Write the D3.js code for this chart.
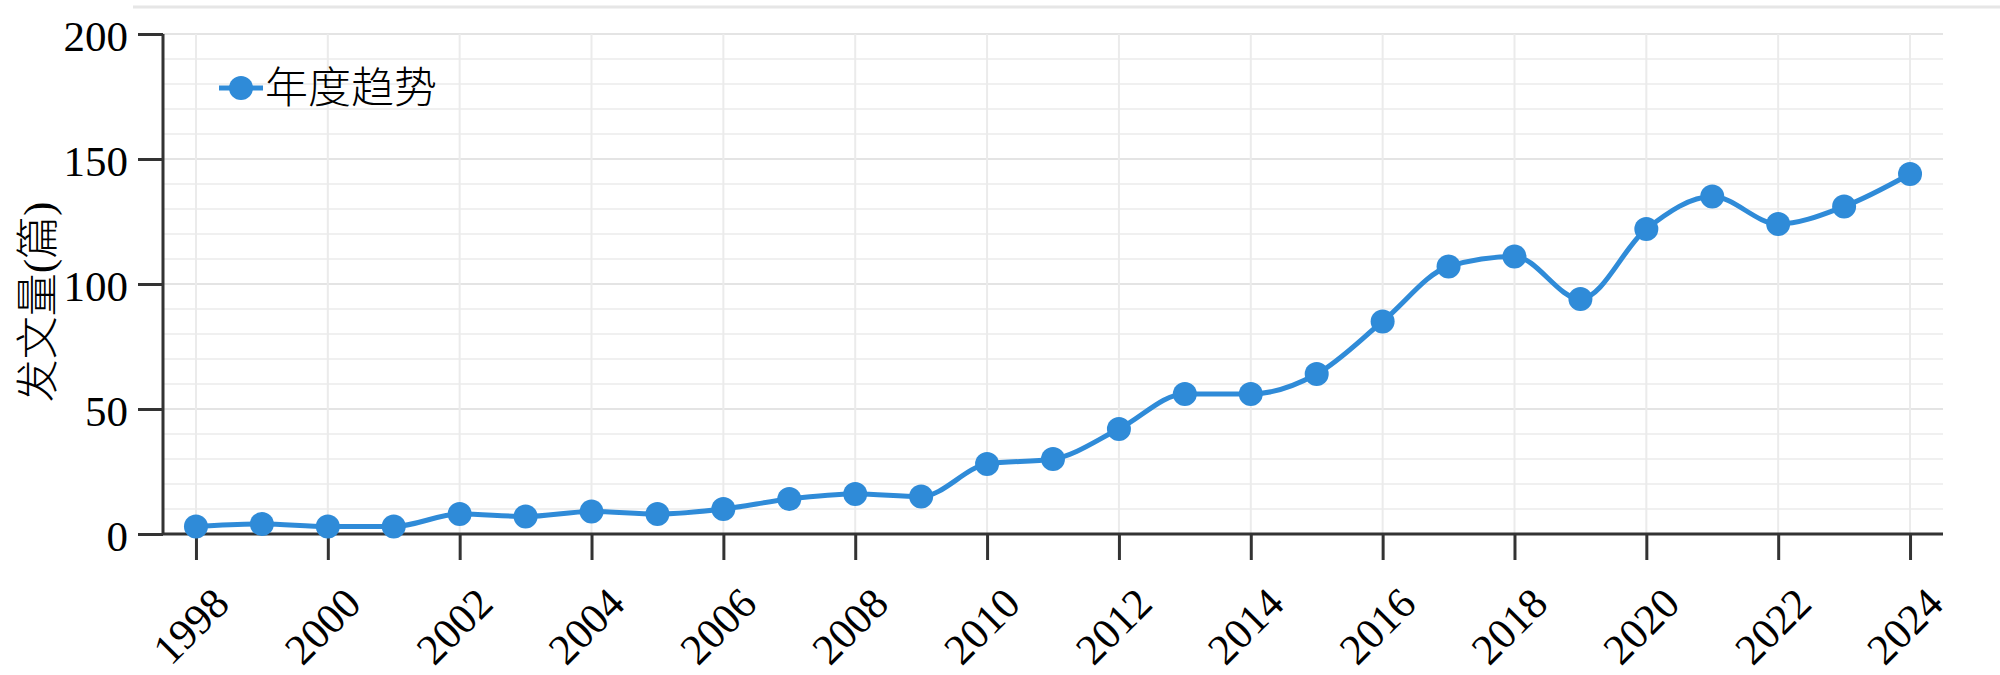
<!DOCTYPE html>
<html>
<head>
<meta charset="utf-8">
<script src="https://cdn.jsdelivr.net/npm/d3@7"></script>
<style>
  html, body { margin: 0; padding: 0; background: #fff; }
  svg { display: block; }
</style>
</head>
<body>
<div id="chart"></div>
<script>
// data
const years = [1998, 1999, 2000, 2001, 2002, 2003, 2004, 2005, 2006, 2007, 2008, 2009, 2010,
               2011, 2012, 2013, 2014, 2015, 2016, 2017, 2018, 2019, 2020, 2021, 2022, 2023, 2024];
const counts = [3, 4, 3, 3, 8, 7, 9, 8, 10, 14, 16, 15, 28,
                30, 42, 56, 56, 64, 85, 107, 111, 94, 122, 135, 124, 131, 144];
const xTickYears = [1998, 2000, 2002, 2004, 2006, 2008, 2010, 2012, 2014, 2016, 2018, 2020, 2022, 2024];
const yTicks = [0, 50, 100, 150, 200];
const yGrid = d3.range(0, 201, 10);
const seriesName = "年度趋势";
const yTitle = "发文量(篇)";

const width = 2000, height = 675;
const plotLeft = 163, plotRight = 1943, plotTop = 34, plotBottom = 534;
const blue = "#2f8bd8";
const axisColor = "#333";
const serif = "'Liberation Serif', 'Times New Roman', serif";
const cjk = "'Liberation Serif', 'Noto Sans CJK SC', serif";

const svg = d3.select("#chart").append("svg")
    .attr("width", width)
    .attr("height", height);

const x = d3.scaleLinear().domain([1997.5, 2024.5]).range([plotLeft, plotRight]);
const y = d3.scaleLinear().domain([0, 200]).range([plotBottom, plotTop]);

// faint rule along the top
svg.append("line")
    .attr("x1", 133).attr("x2", width)
    .attr("y1", 7).attr("y2", 7)
    .attr("stroke", "#e6e6e6")
    .attr("stroke-width", 3);

// grid
const grid = svg.append("g");
grid.selectAll(".hgrid")
    .data(yGrid)
    .enter().append("line")
    .attr("class", "hgrid")
    .attr("x1", plotLeft).attr("x2", plotRight)
    .attr("y1", d => y(d)).attr("y2", d => y(d))
    .attr("stroke", d => d % 50 === 0 ? "#e4e4e4" : "#f0f0f0")
    .attr("stroke-width", 2);
grid.selectAll(".vgrid")
    .data(xTickYears)
    .enter().append("line")
    .attr("class", "vgrid")
    .attr("x1", d => x(d)).attr("x2", d => x(d))
    .attr("y1", plotTop).attr("y2", plotBottom)
    .attr("stroke", "#ebebeb")
    .attr("stroke-width", 2);

// axes
const yAxis = svg.append("g")
    .attr("transform", `translate(${plotLeft},0)`)
    .call(d3.axisLeft(y).tickValues(yTicks).tickSize(25).tickPadding(10));
const xAxis = svg.append("g")
    .attr("transform", `translate(0,${plotBottom})`)
    .call(d3.axisBottom(x).tickValues(xTickYears).tickSize(26).tickFormat(d3.format("d")));

[yAxis, xAxis].forEach(g => {
    g.select(".domain").attr("stroke", axisColor).attr("stroke-width", 3);
    g.selectAll(".tick line").attr("stroke", axisColor).attr("stroke-width", 3);
    g.selectAll("text")
        .attr("fill", "#000")
        .style("font-family", serif)
        .style("font-size", "43px");
});
yAxis.select(".domain").attr("d", `M0,${plotTop}V${plotBottom}`);
xAxis.select(".domain").attr("d", `M${plotLeft},0H${plotRight}`);
yAxis.selectAll("text").attr("dy", "0.38em");

xAxis.selectAll(".tick text")
    .attr("text-anchor", "end")
    .attr("x", 0).attr("y", 0).attr("dy", 0)
    .attr("transform", "translate(35,72) rotate(-45)");

// y title
svg.append("text")
    .attr("transform", "translate(38,302) rotate(-90)")
    .attr("text-anchor", "middle")
    .attr("dominant-baseline", "central")
    .style("font-family", cjk)
    .style("font-size", "43px")
    .style("font-weight", 300)
    .attr("fill", "#000")
    .text(yTitle);

// series
const data = years.map((yr, i) => ({ year: yr, value: counts[i] }));
const line = d3.line()
    .x(d => x(d.year))
    .y(d => y(d.value))
    .curve(d3.curveMonotoneX);

svg.append("path")
    .datum(data)
    .attr("fill", "none")
    .attr("stroke", blue)
    .attr("stroke-width", 5)
    .attr("d", line);

svg.selectAll(".dot")
    .data(data)
    .enter().append("circle")
    .attr("class", "dot")
    .attr("cx", d => x(d.year))
    .attr("cy", d => y(d.value))
    .attr("r", 12)
    .attr("fill", blue);

// legend
const legend = svg.append("g").attr("transform", "translate(219,88)");
legend.append("line")
    .attr("x1", 0).attr("x2", 44)
    .attr("stroke", blue)
    .attr("stroke-width", 5);
legend.append("circle")
    .attr("cx", 22)
    .attr("r", 12)
    .attr("fill", blue);
legend.append("text")
    .attr("x", 46)
    .attr("y", 0)
    .attr("dominant-baseline", "central")
    .style("font-family", cjk)
    .style("font-size", "43px")
    .style("font-weight", 300)
    .attr("fill", "#000")
    .text(seriesName);
</script>
</body>
</html>
